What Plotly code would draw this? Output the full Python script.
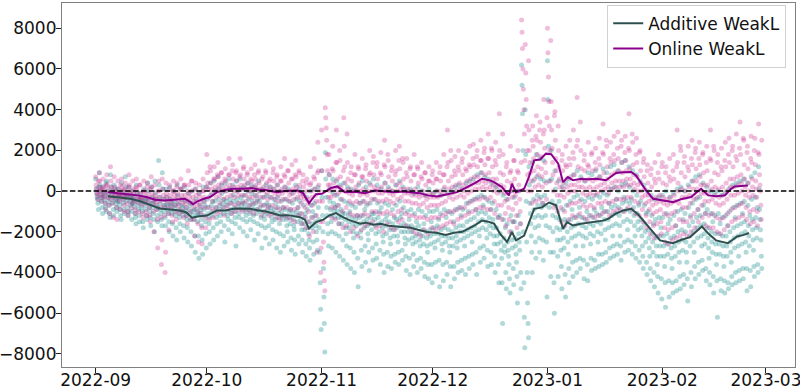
import pandas as pd
import plotly.graph_objects as go

START = pd.Timestamp("2022-09-01")
SCALE = 100          # scatter values below are given in hundreds
PER_DAY = 8          # readings per day (every 3 hours)

# ---- Additive WeakL residuals (teal points), one tuple per day, in hundreds ----
additive_sep = [
    (6,1,-1,-3,-4,-6,-9,2),(9,3,-2,0,-5,-3,-8,-11),(2,-1,-4,-2,-6,-8,4,-10),(5,0,-3,-5,-1,-7,-11,-13),(8,2,-2,-4,-6,0,-9,-12),
    (3,-2,-4,1,-6,-8,-10,-5),(1,-3,-5,-2,-7,-9,-12,-14),(4,0,-2,-4,-6,-9,-11,-3),(7,2,-1,-5,-3,-8,-12,-10),(2,-2,-5,-3,-7,-10,-14,-6),
    (0,-3,-6,-4,-8,-11,-13,-16),(3,-1,-5,-7,-3,-9,-12,-15),(-1,-4,-6,-8,-5,-10,-15,-18),(1,-3,-5,-7,-9,-4,-12,-14),(4,0,-4,-6,-8,-10,-13,-17),
    (2,-3,-6,-8,-11,-5,-14,-20),(5,-1,-4,-7,-9,-12,-15,-8),(15,3,-3,-6,-9,-11,-14,-17),(9,1,-4,-7,-10,-8,-13,-17),(1,-3,-6,-9,-7,-11,-15,-20),
    (2,-4,-7,-9,-11,-6,-16,-22),(0,-5,-8,-10,-12,-7,-18,-24),(3,-2,-6,-9,-11,-13,-16,-20),(1,-4,-7,-10,-8,-12,-17,-23),(2,-5,-8,-10,-12,-14,-18,-25),
    (-1,-5,-9,-11,-7,-14,-20,-27),(0,-6,-10,-12,-14,-9,-22,-30),(1,-4,-9,-12,-15,-11,-22,-33),(-1,-7,-11,-9,-14,-17,-24,-31),(2,-5,-9,-12,-7,-15,-21,-28),
]
additive_oct = [
    (2,-4,-8,-11,-13,-16,-20,-26),(4,-2,-7,-10,-12,-5,-18,-24),(5,0,-5,-8,-10,-13,-16,-22),(7,1,-4,-7,-9,-12,-15,-20),(3,-1,-6,-8,-11,-4,-17,-25),
    (4,0,-5,-7,-10,-12,-14,-19),(6,1,-4,-6,-9,-11,-15,-21),(3,-2,-5,-8,-10,-13,-16,-27),(5,0,-4,-6,-8,-11,-13,-18),(6,1,-3,-7,-9,-5,-14,-20),
    (2,-2,-6,-8,-10,-12,-15,-22),(4,0,-4,-7,-9,-11,-14,-19),(3,-1,-5,-7,-9,-12,-15,-24),(2,-2,-6,-9,-11,-4,-16,-21),(5,0,-5,-8,-10,-13,-17,-28),
    (1,-3,-7,-10,-12,-14,-18,-23),(3,-2,-6,-9,-11,-7,-17,-26),(2,-3,-8,-10,-13,-15,-19,-24),(1,-4,-9,-11,-14,-6,-20,-28),(3,-3,-8,-11,-13,-16,-21,-30),
    (0,-5,-10,-12,-14,-8,-22,-27),(2,-4,-9,-12,-14,-17,-20,-25),(1,-5,-10,-13,-16,-9,-23,-29),(-1,-6,-11,-14,-17,-19,-24,-31),(3,-4,-10,-12,-15,-8,-22,-26),
    (1,-5,-11,-14,-16,-19,-24,-30),(-1,-7,-13,-16,-19,-11,-26,-32),(-3,-9,-15,-18,-21,-24,-28,-34),(0,-7,-13,-16,-18,-10,-25,-31),(1,-6,-12,-15,-17,-20,-24,-29),
    (2,-8,-14,-18,-30,-45,-58,-68),
]
additive_nov = [
    (10,-3,-12,-20,-38,-52,-65,-79),(19,6,-3,-8,-12,-16,-21,-27),(8,1,-5,-9,-12,-15,-20,-28),(6,-1,-6,-10,-13,-8,-21,-30),(5,-2,-7,-10,-13,-16,-22,-32),
    (3,-4,-9,-13,-16,-11,-24,-34),(4,-5,-11,-14,-18,-21,-27,-36),(2,-6,-12,-15,-18,-10,-28,-38),(1,-7,-13,-16,-20,-23,-30,-40),(0,-8,-14,-17,-21,-12,-33,-47),
    (3,-6,-13,-16,-20,-23,-29,-37),(5,-5,-12,-15,-18,-9,-27,-35),(2,-7,-14,-17,-21,-24,-30,-39),(4,-6,-13,-16,-19,-11,-28,-34),(6,-4,-11,-14,-17,-21,-26,-33),
    (3,-6,-13,-16,-20,-10,-29,-36),(1,-8,-15,-18,-22,-25,-31,-40),(4,-6,-14,-17,-21,-12,-30,-37),(2,-7,-15,-19,-23,-26,-32,-38),(0,-9,-16,-19,-22,-13,-31,-35),
    (3,-7,-14,-18,-22,-25,-30,-36),(5,-5,-13,-17,-20,-11,-29,-34),(2,-8,-16,-20,-23,-26,-32,-39),(0,-10,-17,-20,-24,-14,-33,-41),(1,-9,-17,-20,-23,-26,-31,-37),
    (-1,-11,-18,-22,-25,-15,-34,-40),(2,-9,-17,-21,-24,-27,-33,-38),(0,-10,-19,-22,-26,-16,-35,-42),(-2,-12,-20,-23,-27,-30,-36,-43),(1,-10,-19,-22,-26,-15,-36,-45),
]
additive_dec = [
    (-1,-10,-18,-21,-25,-28,-35,-42),(0,-9,-17,-21,-24,-14,-34,-47),(-2,-11,-19,-22,-26,-29,-36,-44),(1,-9,-18,-22,-25,-13,-35,-41),(-1,-10,-19,-23,-27,-30,-37,-47),
    (0,-11,-20,-23,-27,-15,-37,-43),(2,-9,-18,-22,-25,-28,-35,-40),(3,-8,-17,-20,-24,-12,-34,-39),(1,-9,-17,-20,-23,-27,-33,-41),(4,-6,-15,-19,-22,-10,-32,-38),
    (5,-5,-14,-18,-21,-25,-31,-36),(6,-4,-13,-17,-20,-9,-30,-41),(8,-3,-11,-15,-19,-22,-28,-35),(9,-2,-10,-14,-18,-7,-27,-33),(7,-3,-11,-15,-19,-23,-29,-37),
    (6,-5,-13,-17,-21,-9,-30,-36),(4,-6,-14,-18,-22,-26,-32,-40),(2,-9,-18,-22,-26,-13,-36,-45),(0,-12,-21,-25,-29,-33,-45,-65),(-2,-14,-23,-27,-30,-18,-40,-48),
    (-4,-16,-25,-29,-32,-36,-43,-50),(0,-12,-20,-24,-28,-15,-38,-46),(-3,-15,-23,-27,-31,-35,-42,-55),(0,-12,-21,-25,-29,-16,-40,-48),(62,52,38,20,-20,-45,-62,-77),
    (40,18,-5,-25,-40,-55,-65,-72),(12,3,-6,-11,-16,-22,-30,-40),(14,5,-4,-9,-13,-18,-25,-33),(18,7,-2,-7,-12,-17,-23,-30),(16,6,-3,-8,-13,-6,-24,-34),
    (15,5,-2,-7,-12,-17,-25,-52),
]
additive_jan = [
    (64,45,22,5,-8,-18,-30,-42),(20,6,-5,-12,-20,-30,-45,-60),(10,1,-7,-13,-18,-24,-32,-42),(5,-5,-14,-19,-24,-29,-37,-48),(2,-9,-18,-23,-28,-14,-41,-52),
    (4,-7,-15,-20,-25,-31,-38,-45),(6,-5,-14,-18,-23,-9,-35,-42),(8,-3,-13,-17,-22,-27,-34,-40),(10,-2,-12,-16,-21,-8,-33,-38),(7,-4,-13,-17,-22,-27,-34,-43),
    (5,-5,-14,-18,-23,-10,-36,-44),(9,-3,-12,-16,-21,-26,-33,-39),(8,-4,-13,-17,-22,-9,-34,-38),(10,-2,-11,-15,-20,-25,-31,-37),(7,-3,-12,-16,-21,-8,-31,-36),
    (11,-1,-10,-14,-19,-24,-30,-35),(9,-2,-10,-14,-18,-6,-28,-33),(12,1,-8,-12,-17,-22,-27,-32),(13,2,-7,-11,-16,-4,-26,-31),(10,0,-8,-12,-17,-22,-27,-34),
    (14,3,-6,-10,-15,-3,-25,-30),(15,4,-5,-9,-14,-19,-24,-29),(12,2,-6,-10,-15,-4,-25,-31),(10,0,-8,-12,-17,-22,-27,-33),(8,-2,-11,-15,-19,-7,-29,-35),
    (5,-5,-14,-18,-22,-27,-32,-38),(3,-7,-16,-20,-25,-11,-35,-41),(0,-10,-19,-23,-28,-32,-38,-44),(-2,-12,-21,-25,-30,-16,-40,-47),(-4,-14,-23,-27,-32,-36,-42,-50),
    (-3,-13,-22,-27,-32,-18,-43,-53),
]
additive_feb = [
    (-2,-13,-22,-27,-32,-37,-45,-57),(0,-11,-21,-26,-31,-16,-44,-52),(-3,-14,-23,-28,-33,-38,-45,-50),(-1,-12,-22,-27,-32,-17,-44,-49),(1,-10,-20,-25,-30,-35,-42,-48),
    (2,-9,-19,-24,-29,-14,-41,-46),(0,-11,-20,-25,-30,-35,-43,-54),(3,-8,-17,-22,-27,-12,-40,-47),(5,-6,-15,-20,-25,-30,-37,-43),(7,-4,-13,-18,-23,-9,-35,-41),
    (8,-3,-12,-17,-22,-27,-34,-39),(4,-7,-16,-21,-26,-11,-38,-44),(2,-9,-18,-23,-28,-33,-40,-46),(0,-11,-20,-25,-30,-15,-42,-50),(-1,-12,-21,-26,-31,-36,-44,-62),
    (0,-11,-21,-26,-31,-16,-43,-49),(-2,-13,-22,-27,-32,-37,-44,-50),(-1,-12,-22,-27,-32,-17,-45,-48),(1,-10,-20,-25,-30,-35,-42,-46),(3,-8,-18,-23,-28,-13,-40,-45),
    (4,-7,-17,-22,-27,-32,-39,-44),(5,-6,-16,-21,-26,-11,-38,-43),(6,-5,-15,-20,-25,-30,-38,-49),(4,-7,-17,-22,-27,-12,-39,-47),(7,-4,-14,-19,-24,-29,-37,-42),
    (9,-3,-13,-18,-23,-8,-36,-40),(12,1,-9,-14,-19,-24,-32,-38),
]

# ---- Online WeakL residuals (magenta points), one tuple per day, in hundreds ----
online_sep = [
    (7,3,1,-1,-2,-4,5,0),(9,5,2,0,-2,-5,1,-3),(6,2,0,-1,-3,-6,-9,3),(8,3,1,-1,-3,-7,-11,-4),(12,5,2,0,-2,-6,-13,-3),
    (7,2,0,-1,-4,-8,-14,-2),(5,1,-1,-2,-5,-9,3,-3),(6,2,0,-2,-4,-7,-10,1),(4,0,-2,-3,-6,-10,-12,2),(8,3,0,-1,-4,-8,-2,-6),
    (5,1,-1,-3,-5,-9,-11,2),(6,1,-1,-3,-6,-10,-4,3),(3,-1,-3,-4,-7,-11,-13,0),(5,0,-2,-4,-6,-10,-12,2),(4,-1,-3,-5,-8,-12,-15,1),
    (7,2,-1,-3,-6,-10,-20,-4),(3,-2,-4,-6,-9,-14,-28,0),(5,0,-3,-5,-8,-13,-36,-24),(6,1,-2,-4,-7,-12,-40,-30),(4,-1,-3,-5,-8,-11,-19,1),
    (3,-2,-4,-6,-8,-12,-15,0),(5,0,-2,-4,-7,-10,-14,2),(4,-1,-3,-5,-7,-11,-9,1),(6,1,-2,-4,-6,-10,-13,3),(3,-2,-4,-6,-8,-12,-16,0),
    (10,3,-1,-3,-6,-10,-14,5),(5,0,-3,-5,-8,-14,-22,1),(4,-2,-5,-7,-10,-16,-25,-1),(3,-3,-6,-8,-11,-18,-26,0),(6,0,-3,-5,-8,-13,-18,2),
]
online_oct = [
    (18,9,4,1,-3,-8,-14,12),(10,4,1,-1,-5,-9,-13,6),(12,6,2,0,-3,-8,-11,8),(14,7,3,1,-2,-6,-10,9),(9,4,1,0,-4,-8,-12,6),
    (11,5,2,0,-3,-7,-9,8),(16,8,3,1,-2,-6,-11,10),(13,6,2,0,-3,-7,-10,9),(10,5,2,0,-2,-6,-9,7),(16,8,3,1,-2,-6,-10,11),
    (12,6,3,1,-2,-5,-9,8),(9,4,1,0,-3,-7,-10,6),(11,5,2,0,-3,-6,-11,8),(13,6,3,1,-2,-5,-9,9),(10,4,1,0,-3,-7,-12,6),
    (15,7,2,0,-3,-7,-10,10),(9,4,1,-1,-4,-8,-12,5),(14,6,2,0,-3,-7,-11,9),(11,5,1,-1,-4,-8,-13,7),(8,3,0,-2,-5,-9,-14,5),
    (12,5,1,-1,-4,-8,-12,8),(16,7,2,0,-4,-8,-13,10),(10,4,0,-2,-5,-9,-14,6),(13,6,1,-1,-4,-9,-15,8),(15,7,2,0,-3,-8,-12,10),
    (9,3,-1,-3,-6,-11,-16,5),(8,2,-2,-4,-8,-13,-18,4),(6,0,-4,-6,-10,-15,-22,3),(12,4,0,-3,-7,-13,-20,7),(16,6,1,-2,-5,-12,-30,9),
    (24,10,3,0,-5,-15,-40,-28),
]
online_nov = [
    (30,10,-5,-15,-25,-35,-44,-49),(41,36,31,25,18,10,3,-3),(18,8,3,0,-3,-8,-13,11),(22,10,4,1,-2,-8,-14,14),(30,14,6,2,-1,-7,-16,20),
    (15,7,2,0,-4,-10,-18,10),(36,22,12,4,0,-8,-17,28),(14,6,1,-1,-5,-11,-20,9),(12,5,0,-2,-6,-12,-18,8),(18,8,2,0,-5,-12,-22,12),
    (11,4,0,-2,-6,-12,-19,7),(16,7,1,-1,-5,-11,-17,11),(13,5,0,-2,-6,-12,-16,8),(20,9,3,0,-4,-10,-15,14),(17,8,2,0,-4,-10,-18,12),
    (14,6,1,-1,-5,-11,-17,9),(19,8,2,-1,-5,-11,-20,13),(25,12,4,0,-4,-10,-16,18),(15,7,1,-1,-5,-11,-18,10),(12,5,0,-2,-6,-12,-19,8),
    (20,10,3,0,-4,-10,-15,15),(22,11,4,1,-3,-9,-14,16),(14,6,1,-1,-5,-11,-17,9),(16,7,1,-1,-5,-12,-18,11),(12,5,0,-2,-6,-12,-20,8),
    (18,8,1,-2,-6,-13,-21,12),(11,4,-1,-3,-7,-13,-22,7),(14,6,0,-2,-6,-13,-19,9),(9,3,-2,-4,-8,-14,-21,5),(12,5,-1,-3,-7,-13,-18,8),
]
online_dec = [
    (10,4,-1,-3,-7,-13,-19,6),(14,6,0,-3,-7,-13,-18,9),(12,5,0,-2,-6,-12,-17,8),(18,8,2,-1,-5,-11,-16,12),(30,14,5,1,-3,-10,-15,20),
    (15,7,2,-1,-4,-10,-16,10),(17,8,3,0,-3,-9,-14,12),(20,10,4,1,-2,-8,-13,14),(16,8,3,0,-3,-8,-12,11),(19,10,5,2,-1,-6,-11,13),
    (22,12,6,3,0,-5,-10,16),(23,13,7,4,1,-4,-9,17),(20,12,7,4,1,-4,-8,15),(25,15,9,5,2,-3,-8,19),(21,13,8,4,1,-4,-9,16),
    (28,16,9,5,2,-3,-9,21),(20,12,6,3,0,-5,-11,15),(24,13,6,2,-1,-7,-13,17),(38,20,9,3,0,-7,-14,28),(18,8,2,-1,-5,-11,-17,12),
    (14,5,-1,-4,-8,-14,-20,9),(22,10,4,0,-3,-9,-15,15),(15,6,0,-2,-6,-12,-18,10),(20,9,3,0,-4,-10,-16,14),(84,78,70,60,50,40,28,15),
    (72,58,45,32,20,8,0,64),(30,20,14,9,5,0,-6,25),(32,22,16,10,6,2,-5,27),(37,25,18,12,8,3,-4,30),(34,24,17,11,7,2,-6,28),
    (45,30,21,14,9,4,-4,36),
]
online_jan = [
    (80,68,56,44,32,20,5,74),(44,30,21,14,8,0,-8,37),(39,25,16,10,4,-2,-10,32),(20,12,6,2,-2,-8,-15,15),(18,10,4,1,-3,-10,-17,13),
    (22,12,6,2,-1,-7,-14,16),(25,13,7,3,0,-6,-12,19),(30,16,8,3,0,-6,-13,22),(46,25,12,5,2,-5,-11,34),(20,11,6,2,-1,-7,-13,15),
    (18,10,5,1,-2,-8,-14,13),(24,12,6,2,-1,-7,-12,18),(19,10,5,1,-2,-8,-13,14),(21,11,6,2,-1,-6,-12,16),(26,13,7,3,0,-6,-11,19),
    (33,18,9,4,1,-5,-10,25),(22,12,6,2,-1,-6,-12,16),(24,14,8,4,1,-5,-10,18),(27,15,9,5,2,-4,-9,21),(29,16,10,5,2,-4,-9,22),
    (25,14,9,5,2,-4,-10,19),(27,15,10,6,3,-3,-8,21),(38,20,11,6,3,-3,-9,28),(24,13,8,4,1,-5,-11,18),(26,14,7,3,0,-6,-12,19),
    (20,10,4,0,-3,-9,-15,14),(16,7,1,-2,-6,-12,-18,10),(13,4,-2,-5,-9,-15,-21,8),(11,2,-4,-7,-11,-17,-23,6),(14,4,-3,-6,-10,-16,-22,9),
    (18,6,-2,-5,-9,-15,-21,12),
]
online_feb = [
    (14,4,-3,-6,-11,-18,-25,9),(12,3,-4,-7,-12,-19,-26,7),(16,5,-3,-6,-11,-18,-24,10),(18,6,-2,-5,-10,-17,-23,12),(30,14,4,0,-6,-14,-22,22),
    (20,9,1,-3,-8,-15,-21,14),(17,7,0,-3,-8,-15,-22,12),(22,10,2,-2,-6,-13,-20,16),(25,13,5,1,-4,-11,-18,19),(21,11,5,1,-3,-9,-15,16),
    (24,13,7,3,-1,-7,-13,18),(19,9,3,-1,-5,-11,-17,14),(22,10,3,-1,-5,-12,-18,16),(30,15,5,1,-4,-11,-18,22),(20,9,2,-2,-6,-13,-20,14),
    (18,8,1,-3,-7,-14,-21,12),(21,10,2,-2,-6,-13,-19,15),(24,12,4,0,-4,-11,-17,18),(26,14,6,2,-2,-9,-15,20),(22,12,6,2,-2,-8,-14,17),
    (28,15,7,3,-1,-7,-13,21),(34,18,8,4,0,-6,-12,26),(25,13,6,2,-2,-8,-14,19),(22,11,4,0,-3,-10,-16,16),(27,14,6,2,-2,-9,-15,20),
    (26,13,5,1,-3,-10,-17,19),(33,18,8,3,0,-7,-14,25),
]

# ---- Smoothed curves: (days since 2022-09-01, value) ----
additive_line_days = [3.3,6,9.3,12,14.5,17.4,20,22.8,24.5,26,27.5,30,32.8,35,37.5,41.7,44,46,48,49.8,52,55.2,56.5,57.6,59.5,
    61.5,63,64.9,66.5,68.7,71.4,73,75,77,79,82.2,85,87,89.5,92,94.5,96.8,99,102.2,104.3,106,107.6,109.2,111.1,112.4,113.5,
    115.7,117,118.4,120.5,122.4,124.3,126.2,127.3,128.9,131,133,135.1,137,138.5,140.5,142.5,144.6,146.5,148.6,150.5,152.4,
    155.9,158,160.5,162,163.7,165.5,167.5,170.7,172,173.2,175,176.4]
additive_line_vals = [-250,-300,-380,-500,-650,-850,-900,-950,-1050,-1310,-1250,-1200,-950,-950,-850,-870,-950,-1000,-1100,-1200,
    -1180,-1280,-1400,-1840,-1520,-1400,-1200,-1080,-1250,-1440,-1600,-1550,-1650,-1600,-1700,-1770,-1800,-1900,-2010,-2050,
    -2150,-2050,-2000,-1700,-1450,-1500,-1600,-2100,-2500,-2010,-2420,-2180,-1500,-870,-800,-560,-700,-1850,-1520,-1690,-1600,
    -1550,-1480,-1450,-1350,-1100,-950,-870,-1150,-1600,-2000,-2420,-2560,-2400,-2260,-2000,-1740,-2100,-2420,-2560,-2400,
    -2230,-2150,-2060]
online_line_days = [3.3,6,8.5,11.4,14,16,18.7,21,24.1,25.3,26.3,27.5,29.2,30.9,32.8,35,37.1,40,42.2,44,46,48.9,51,54.4,56,
    57.6,59.5,61.1,63.5,65.2,67.3,70,72.7,75.4,78,80.8,83,85.4,87.5,89.7,92.2,95,97.6,100.3,102.5,104.3,106,107.6,109.7,
    111.6,112.4,113.5,115.7,117,118.4,120,121.6,123,124.9,126.2,127.5,128.9,131,133,135.1,137.8,140.5,142.5,144.6,145.9,
    147.5,148.6,150.5,153,155.9,158,160.8,162,163.5,165.4,167.5,169.9,171.5,172.6,174.5,176.1]
online_line_vals = [-50,-120,-150,-210,-300,-420,-460,-420,-375,-500,-650,-500,-375,-290,-50,50,115,120,150,80,50,-50,0,35,
    -100,-590,-150,-130,150,230,-50,-30,-100,35,0,-50,-20,-50,-100,-210,-260,-150,-50,200,400,610,550,440,200,-210,360,
    -50,115,700,1510,1550,1840,1810,1350,440,690,530,600,580,610,530,890,930,940,770,300,35,-375,-450,-540,-400,-290,
    -100,115,-210,-250,-210,100,230,250,280]

Y_TICKS = [-8000, -6000, -4000, -2000, 0, 2000, 4000, 6000, 8000]

# ---------------------------------------------------------------------------
def flatten(months):
    vals = []
    for m in months:
        for day in m:
            assert len(day) == PER_DAY, day
            vals.extend(v * SCALE for v in day)
    return vals

add_pts = flatten([additive_sep, additive_oct, additive_nov, additive_dec, additive_jan, additive_feb])
onl_pts = flatten([online_sep, online_oct, online_nov, online_dec, online_jan, online_feb])
assert len(add_pts) == len(onl_pts) == 180 * PER_DAY
pt_times = pd.date_range(START, periods=len(add_pts), freq="3h")

def to_dates(days):
    return [START + pd.Timedelta(days=d) for d in days]

fig = go.Figure()
fig.add_trace(go.Scatter(x=pt_times, y=add_pts, mode="markers", showlegend=False,
                         marker=dict(color="rgb(0,128,128)", size=5, opacity=0.3, line=dict(width=0))))
fig.add_trace(go.Scatter(x=pt_times, y=onl_pts, mode="markers", showlegend=False,
                         marker=dict(color="rgb(199,21,133)", size=5, opacity=0.28, line=dict(width=0))))
fig.add_trace(go.Scatter(x=to_dates(additive_line_days), y=additive_line_vals, mode="lines",
                         name="Additive WeakL", line=dict(color="#2F4F4F", width=2)))
fig.add_trace(go.Scatter(x=to_dates(online_line_days), y=online_line_vals, mode="lines",
                         name="Online WeakL", line=dict(color="#8B008B", width=2)))

fig.add_shape(type="line", xref="paper", x0=0, x1=1, yref="y", y0=0, y1=0,
              line=dict(color="black", width=1.5, dash="5.5px,2.4px"))

axis_common = dict(showgrid=False, zeroline=False, showline=True, mirror=True,
                   linecolor="#808080", linewidth=1.2, ticks="outside", ticklen=5,
                   tickcolor="#222", tickwidth=1.2, automargin=False,
                   ticklabeloverflow="allow",
                   tickfont=dict(family="DejaVu Sans", size=17, color="#111"))
fig.update_xaxes(range=["2022-08-22 21:50", "2023-03-08 20:00"], tickformat="%Y-%m",
                 dtick="M1", tick0="2022-09-01", ticklabelstandoff=-8, **axis_common)
fig.update_yaxes(range=[-8640, 9240], tickvals=Y_TICKS, ticklabelstandoff=-4, **axis_common)

fig.update_layout(
    width=800, height=390,
    margin=dict(l=62, r=5, t=3, b=23),
    plot_bgcolor="white", paper_bgcolor="white",
    font=dict(family="DejaVu Sans", size=17, color="#111"),
    legend=dict(x=0.988, y=0.995, xanchor="right", yanchor="top",
                bgcolor="rgba(255,255,255,0.85)", bordercolor="#d0d0d0", borderwidth=1,
                font=dict(size=17)),
)

fig.write_html("out.html", config={"displayModeBar": False},
               post_script="document.body.style.margin='0';")
